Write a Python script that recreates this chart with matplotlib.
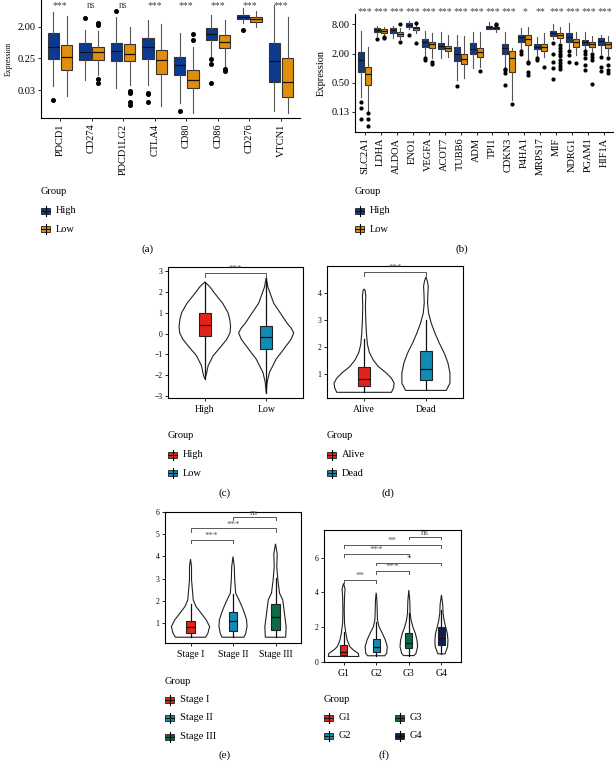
import numpy as np
import matplotlib.pyplot as plt
from matplotlib.patches import Rectangle
from matplotlib.lines import Line2D
from matplotlib.ticker import NullLocator
from matplotlib.transforms import blended_transform_factory

plt.rcParams['font.family'] = ['Liberation Serif', 'DejaVu Serif']

W, H = 614, 762

# ---------------- (a) immune checkpoint genes ----------------
a_genes = ['PDCD1', 'CD274', 'PDCD1LG2', 'CTLA4', 'CD80', 'CD86', 'CD276', 'VTCN1']
a_sig = ['***', 'ns', 'ns', '***', '***', '***', '***', '***']
# whisker low, q1, median, q3, whisker high
a_high = [[0.0406, 0.245, 0.514, 1.29, 5.35],
          [0.0604, 0.224, 0.371, 0.669, 1.60],
          [0.0349, 0.210, 0.406, 0.697, 3.86],
          [0.0433, 0.245, 0.514, 0.973, 3.10],
          [0.0131, 0.0819, 0.161, 0.279, 1.29],
          [0.279, 0.835, 1.24, 1.79, 4.29],
          [2.60, 3.32, 3.86, 4.29, 6.68],
          [0.00786, 0.054, 0.210, 0.697, 8.28]]
a_high_out = [[0.0162], [3.46], [5.58], [0.0254, 0.0237, 0.0146], [0.00786],
              [0.240, 0.168, 0.0484], [1.60], []]
a_low = [[0.0210, 0.117, 0.268, 0.599, 4.03],
         [0.0836, 0.224, 0.371, 0.540, 1.54],
         [0.0433, 0.210, 0.332, 0.642, 1.92],
         [0.011, 0.0896, 0.224, 0.432, 2.38],
         [0.0068, 0.0349, 0.0604, 0.117, 0.540],
         [0.129, 0.503, 0.747, 1.16, 3.10],
         [2.0, 2.77, 3.32, 3.68, 5.58],
         [0.0068, 0.0202, 0.0518, 0.25, 3.86]]
a_low_out = [[], [2.49, 2.19, 0.0625, 0.0508], [0.030, 0.0254, 0.0146, 0.0118], [],
             [1.24, 0.835], [0.122, 0.109], [], []]

# ---------------- (b) hypoxia genes ----------------
b_genes = ['SLC2A1', 'LDHA', 'ALDOA', 'ENO1', 'VEGFA', 'ACOT7', 'TUBB6', 'ADM',
           'TPI1', 'CDKN3', 'P4HA1', 'MRPS17', 'MIF', 'NDRG1', 'PGAM1', 'HIF1A']
b_sig = ['***', '***', '***', '***', '***', '***', '***', '***',
         '***', '***', '*', '**', '***', '***', '***', '***']
b_high = [[0.255, 0.84, 1.46, 2.11, 5.93],
          [4.6, 5.55, 6.2, 6.7, 7.5],
          [4.1, 5.4, 6.1, 6.7, 7.5],
          [6.3, 7.15, 7.9, 8.4, 9.5],
          [1.72, 2.77, 3.4, 3.9, 5.93],
          [1.59, 2.43, 2.85, 3.25, 5.66],
          [0.57, 1.39, 2.0, 2.77, 4.8],
          [0.99, 1.92, 2.43, 3.25, 5.66],
          [6.3, 6.5, 6.9, 7.27, 9.1],
          [1.06, 2.0, 2.55, 3.2, 5.46],
          [2.36, 3.4, 4.3, 4.8, 6.6],
          [1.72, 2.43, 2.77, 3.09, 4.45],
          [3.9, 4.66, 5.4, 5.8, 8.0],
          [2.36, 3.5, 4.3, 5.2, 8.4],
          [2.36, 2.99, 3.4, 3.78, 5.66],
          [2.0, 2.99, 3.55, 4.1, 4.8]]
b_high_out = [[0.20, 0.147, 0.087], [3.9], [], [4.8], [1.59, 1.46], [], [0.43], [],
              [], [0.98, 0.91, 0.79, 0.44], [2.27, 2.0], [1.59, 1.46],
              [3.25, 2.0, 1.36, 0.99, 0.59], [2.27, 1.89, 1.36],
              [2.27, 2.0, 1.59, 1.14, 0.91], [1.72, 1.06, 0.87]]
b_low = [[0.125, 0.44, 0.75, 1.06, 2.67],
         [4.6, 5.4, 5.93, 6.3, 7.15],
         [3.9, 4.6, 4.96, 5.46, 6.6],
         [5.2, 6.1, 6.6, 7.15, 9.1],
         [1.59, 2.64, 3.09, 3.4, 5.2],
         [1.72, 2.25, 2.55, 2.85, 4.8],
         [0.64, 1.21, 1.52, 2.0, 4.6],
         [1.06, 1.66, 2.17, 2.55, 5.46],
         [5.66, 6.3, 6.7, 7.15, 8.4],
         [0.22, 0.84, 1.59, 2.25, 2.64],
         [1.46, 2.99, 3.9, 4.8, 7.15],
         [1.72, 2.25, 2.67, 3.2, 5.4],
         [3.4, 4.23, 4.8, 5.4, 7.15],
         [1.89, 2.77, 3.4, 3.9, 5.66],
         [2.27, 2.77, 3.14, 3.5, 4.6],
         [1.89, 2.55, 3.09, 3.5, 4.6]]
b_low_out = [[0.116, 0.091, 0.063], [4.3, 4.1], [8.1, 3.5], [8.6, 3.25], [1.36, 1.21],
             [], [], [0.87], [8.1, 7.7], [0.18], [1.36, 1.25, 0.84, 0.73], [1.06],
             [3.0, 2.6, 2.3, 2.0, 1.75, 1.5, 1.3, 1.1, 0.95], [1.25],
             [2.0, 1.72, 1.46, 0.48], [1.59, 1.15, 0.93, 0.79]]

# ---------------- (c) risk score by group ----------------
c_groups = ['High', 'Low']
c_box = [[-2.18, -0.13, 0.43, 1.01, 2.48], [-2.84, -0.73, -0.16, 0.38, 2.68]]
c_vy = [[-2.18, -2.0, -1.55, -1.07, -0.6, -0.28, 0.03, 0.35, 0.7, 1.0, 1.45, 1.93, 2.25, 2.48],
        [-2.84, -2.34, -1.86, -1.55, -1.23, -0.92, -0.6, -0.28, 0.03, 0.25, 0.5, 0.98, 1.45, 1.93, 2.24, 2.68]]
c_vw = [[0, 0.022, 0.054, 0.135, 0.27, 0.357, 0.41, 0.42, 0.405, 0.378, 0.292, 0.162, 0.081, 0],
        [0, 0.016, 0.054, 0.108, 0.162, 0.243, 0.324, 0.405, 0.449, 0.41, 0.34, 0.232, 0.124, 0.065, 0.027, 0]]
c_pairs = [(1, 2, 2.9, '***')]

# ---------------- (d) survival status ----------------
d_groups = ['Alive', 'Dead']
d_box = [[0.33, 0.58, 0.83, 1.26, 2.3], [0.4, 0.77, 1.2, 1.85, 3.0]]
d_vy = [[0.33, 0.5, 0.67, 0.85, 1.04, 1.28, 1.53, 1.8, 2.1, 2.5, 3.0, 3.5, 3.9, 4.1, 4.15],
        [0.4, 0.67, 1.04, 1.41, 1.78, 2.15, 2.52, 2.89, 3.26, 3.63, 4.0, 4.25, 4.45, 4.59]]
d_vw = [[0.443, 0.476, 0.486, 0.443, 0.362, 0.232, 0.146, 0.086, 0.054, 0.038, 0.027, 0.022, 0.027, 0.016, 0],
        [0.33, 0.389, 0.389, 0.357, 0.297, 0.216, 0.146, 0.086, 0.043, 0.027, 0.032, 0.038, 0.022, 0]]
d_pairs = [(1, 2, 4.79, '***')]

# ---------------- (e) stage ----------------
e_groups = ['Stage I', 'Stage II', 'Stage III']
e_box = [[0.37, 0.58, 0.85, 1.12, 1.87], [0.37, 0.67, 1.12, 1.52, 2.3], [0.37, 0.7, 1.3, 1.87, 3.04]]
e_vy = [[0.37, 0.55, 0.85, 1.15, 1.45, 1.75, 2.05, 2.27, 2.95, 3.55, 3.88],
        [0.37, 0.55, 0.85, 1.15, 1.45, 1.75, 2.05, 2.35, 2.95, 3.55, 4.0],
        [0.37, 0.85, 1.45, 2.05, 2.35, 2.95, 3.55, 4.12, 4.57]]
e_vw = [[0.355, 0.41, 0.45, 0.37, 0.25, 0.13, 0.063, 0.055, 0.024, 0.024, 0],
        [0.26, 0.30, 0.33, 0.32, 0.27, 0.21, 0.14, 0.063, 0.04, 0.03, 0],
        [0.24, 0.25, 0.21, 0.17, 0.095, 0.055, 0.03, 0.04, 0]]
e_pairs = [(1, 2, 4.75, '***'), (1, 3, 5.26, '***'), (2, 3, 5.77, 'ns')]

# ---------------- (f) grade ----------------
f_groups = ['G1', 'G2', 'G3', 'G4']
f_box = [[0.3, 0.39, 0.58, 0.96, 1.7], [0.34, 0.58, 0.87, 1.29, 2.3],
         [0.35, 0.77, 1.06, 1.64, 2.8], [0.45, 0.96, 1.35, 2.02, 2.98]]
f_vy = [[0.3, 0.48, 0.67, 0.87, 1.25, 1.63, 2.2, 3.0, 3.8, 4.2, 4.52],
        [0.34, 0.48, 0.87, 1.25, 1.63, 2.0, 2.4, 3.0, 3.6, 3.98],
        [0.35, 0.48, 0.87, 1.25, 1.63, 2.0, 2.4, 2.8, 3.5, 4.13],
        [0.45, 0.87, 1.25, 1.63, 2.0, 2.4, 2.8, 3.3, 3.85]]
f_vw = [[0.47, 0.45, 0.3, 0.19, 0.11, 0.07, 0.03, 0.02, 0.03, 0.045, 0],
        [0.26, 0.32, 0.34, 0.28, 0.19, 0.09, 0.04, 0.03, 0.02, 0],
        [0.16, 0.22, 0.27, 0.25, 0.2, 0.125, 0.07, 0.04, 0.03, 0],
        [0.11, 0.19, 0.2, 0.18, 0.13, 0.08, 0.05, 0.04, 0]]
f_pairs = [(1, 2, 4.71, '**'), (2, 3, 5.23, '***'), (2, 4, 5.71, '*'),
           (1, 3, 6.21, '***'), (1, 4, 6.73, '**'), (3, 4, 7.21, 'ns')]

hi_lo_colors = ['#0d3a8e', '#e08e0b']
c_colors = ['#e3231b', '#118ab4']
e_colors = ['#e3231b', '#118ab4', '#0b6b45']
f_colors = ['#e3231b', '#118ab4', '#0b6b45', '#0d1d55']

fig = plt.figure(figsize=(W / 100, H / 100), dpi=100)


def fx(x):
    return x / W


def fy(y):
    return 1 - y / H


def add_ax(l, t, r, b):
    return fig.add_axes([fx(l), fy(b), (r - l) / W, (b - t) / H])


def stats_of(rows, outs=None):
    res = []
    for k, r in enumerate(rows):
        d = dict(whislo=r[0], q1=r[1], med=r[2], q3=r[3], whishi=r[4])
        d['fliers'] = outs[k] if outs is not None else []
        res.append(d)
    return res


def grouped_boxes(ax, genes, high, high_out, low, low_out, width, off, msize):
    pos = np.arange(len(genes))
    for rows, outs, sgn, col in [(high, high_out, -1, hi_lo_colors[0]),
                                 (low, low_out, 1, hi_lo_colors[1])]:
        ax.bxp(stats_of(rows, outs), positions=pos + sgn * off, widths=width,
               patch_artist=True, showcaps=False,
               boxprops=dict(facecolor=col, edgecolor='#333333', lw=0.8),
               medianprops=dict(color='#111111', lw=0.9),
               whiskerprops=dict(color='#555555', lw=0.8),
               flierprops=dict(marker='o', markerfacecolor='black', markeredgecolor='black',
                               markersize=msize, lw=0))
    ax.set_xticks(pos)
    ax.set_xticklabels(genes, rotation=90, fontsize=7)
    ax.set_xlim(-0.6, len(genes) - 0.4)
    ax.set_yscale('log', base=2)
    ax.yaxis.set_minor_locator(NullLocator())
    for s in ['top', 'right']:
        ax.spines[s].set_visible(False)
    for s in ['left', 'bottom']:
        ax.spines[s].set_linewidth(0.8)
    ax.tick_params(length=2, width=0.6, labelsize=7.5, pad=2)


def violin_boxes(ax, vy, vw, box, colors, width):
    n = len(vy)
    for i in range(n):
        p = i + 1
        y = np.array(vy[i])
        w = np.array(vw[i])
        xs = np.concatenate([p + w, (p - w)[::-1]])
        ys = np.concatenate([y, y[::-1]])
        ax.fill(xs, ys, facecolor='white', edgecolor='#222222', lw=0.8, zorder=1)
    bp = ax.bxp(stats_of(box), positions=np.arange(1, n + 1), widths=width,
                patch_artist=True, showcaps=False, showfliers=False,
                boxprops=dict(edgecolor='#222222', lw=0.8),
                medianprops=dict(color='#111111', lw=0.9),
                whiskerprops=dict(color='#111111', lw=0.9))
    for patch, col in zip(bp['boxes'], colors):
        patch.set_facecolor(col)
        patch.set_zorder(3)
    for ln in bp['whiskers']:
        ln.set_zorder(2.5)
    for ln in bp['medians']:
        ln.set_zorder(4)
    ax.set_xlim(0.4, n + 0.6)
    for s in ax.spines.values():
        s.set_linewidth(0.8)
    ax.tick_params(length=2, width=0.6, labelsize=5.5, pad=2)
    ax.tick_params(axis='x', labelsize=7, pad=3)


def brackets(ax, pairs, tick):
    for x1, x2, y, lab in pairs:
        ax.plot([x1, x1, x2, x2], [y - tick, y, y, y - tick], color='#555555', lw=0.7)
        ax.text((x1 + x2) / 2, y, lab, ha='center', va='bottom', fontsize=6.5,
                color='#555555')


def key(x, y, color):
    fig.add_artist(Line2D([fx(x + 4.5), fx(x + 4.5)], [fy(y + 5), fy(y - 5)],
                          transform=fig.transFigure, color='black', lw=0.8))
    fig.add_artist(Rectangle((fx(x), fy(y + 3)), 9 / W, 6 / H, transform=fig.transFigure,
                             facecolor=color, edgecolor='#333333', lw=0.7))
    fig.add_artist(Line2D([fx(x), fx(x + 9)], [fy(y), fy(y)],
                          transform=fig.transFigure, color='#111111', lw=0.7))


def legend_block(x, y, labels, colors, nrows=None, colgap=0, step=18.5):
    fig.text(fx(x), fy(y), 'Group', fontsize=7.5, ha='left', va='center')
    if nrows is None:
        nrows = len(labels)
    for k, (lab, col) in enumerate(zip(labels, colors)):
        cx = x + (k // nrows) * colgap
        cy = y + 18.5 + (k % nrows) * step
        key(cx, cy, col)
        fig.text(fx(cx + 15), fy(cy), lab, fontsize=7.5, ha='left', va='center')


# ---- panel (a)
ax = add_ax(41, 0, 300, 118)
grouped_boxes(ax, a_genes, a_high, a_high_out, a_low, a_low_out, 0.36, 0.21, 2.6)
ax.set_ylim(0.005, 11.5)
ax.set_yticks([2, 0.25, 0.03125])
ax.set_yticklabels(['2.00', '0.25', '0.03'])
ax.set_ylabel('Expression', fontsize=5.5, labelpad=3)
tr = blended_transform_factory(ax.transData, ax.transAxes)
for i, s in enumerate(a_sig):
    ax.text(i, 0.955, s, transform=tr, ha='center', va='center', fontsize=7, color='#444444')

# ---- panel (b)
ax = add_ax(355, 14, 614, 132)
grouped_boxes(ax, b_genes, b_high, b_high_out, b_low, b_low_out, 0.38, 0.21, 2.0)
ax.set_ylim(0.048, 13.1)
ax.set_yticks([8, 2, 0.5, 0.125])
ax.set_yticklabels(['8.00', '2.00', '0.50', '0.13'])
ax.set_ylabel('Expression', fontsize=7.5, labelpad=4)
tr = blended_transform_factory(ax.transData, ax.transAxes)
for i, s in enumerate(b_sig):
    ax.text(i, 1.02, s, transform=tr, ha='center', va='center', fontsize=7, color='#444444')

# ---- panel (c)
ax = add_ax(168, 267, 303, 398)
violin_boxes(ax, c_vy, c_vw, c_box, c_colors, 0.2)
ax.set_ylim(-3.1, 3.2)
ax.set_yticks([-3, -2, -1, 0, 1, 2, 3])
ax.set_xticks([1, 2])
ax.set_xticklabels(c_groups)
brackets(ax, c_pairs, 0.2)

# ---- panel (d)
ax = add_ax(327, 266, 463, 398)
violin_boxes(ax, d_vy, d_vw, d_box, c_colors, 0.2)
ax.set_ylim(0.12, 5.0)
ax.set_yticks([1, 2, 3, 4])
ax.set_xticks([1, 2])
ax.set_xticklabels(d_groups)
brackets(ax, d_pairs, 0.15)

# ---- panel (e)
ax = add_ax(165, 512, 301, 643)
violin_boxes(ax, e_vy, e_vw, e_box, e_colors, 0.2)
ax.set_ylim(0.11, 6.0)
ax.set_yticks([1, 2, 3, 4, 5, 6])
ax.set_xticks([1, 2, 3])
ax.set_xticklabels(e_groups)
brackets(ax, e_pairs, 0.15)

# ---- panel (f)
ax = add_ax(324, 530, 461, 662)
violin_boxes(ax, f_vy, f_vw, f_box, f_colors, 0.22)
ax.set_ylim(-0.02, 7.6)
ax.set_yticks([0, 2, 4, 6])
ax.set_xticks([1, 2, 3, 4])
ax.set_xticklabels(f_groups)
brackets(ax, f_pairs, 0.15)

# ---- legends and panel letters
legend_block(41, 192, ['High', 'Low'], hi_lo_colors)
legend_block(355, 192, ['High', 'Low'], hi_lo_colors)
legend_block(168, 436, c_groups, c_colors)
legend_block(327, 436, d_groups, c_colors)
legend_block(165, 681, e_groups, e_colors)
legend_block(324, 699, f_groups, f_colors, nrows=2, colgap=71)

for lab, x, y in [('(a)', 148, 249), ('(b)', 462, 249), ('(c)', 225, 493),
                  ('(d)', 388, 493), ('(e)', 225, 755), ('(f)', 384, 755)]:
    fig.text(fx(x), fy(y), lab, fontsize=8, ha='center', va='center')

fig.savefig('out.png', dpi=100)
